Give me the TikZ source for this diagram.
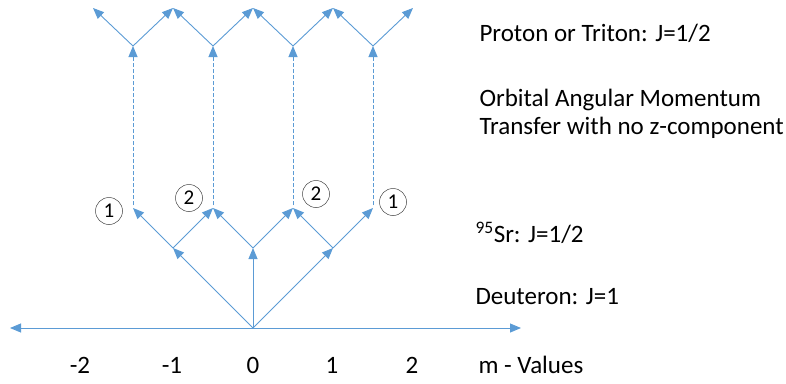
\documentclass[tikz,border=0pt]{standalone}
\usepackage{fontspec}
\setmainfont{Carlito}
\usepackage{xcolor}
\usepackage{tikz}
\usetikzlibrary{arrows.meta,positioning,calc}
\definecolor{spinblue}{HTML}{5B9BD5}

\begin{document}
\begin{tikzpicture}[x=1pt,y=-1pt,>={Triangle[length=11pt,width=9pt]},
  spin/.style={->,spinblue,line width=0.9pt},
  transfer/.style={->,spinblue,line width=1pt,dash pattern=on 4pt off 2pt},
  count/.style={circle,draw=black!75,line width=0.5pt,minimum size=27pt,inner sep=0pt,font=\fontsize{21}{24}\selectfont},
  lbl/.style={anchor=west,font=\fontsize{25}{30}\selectfont}]
\useasboundingbox (0,0) rectangle (786,383);
% m axis
\coordinate (o) at (253,328);
\coordinate (axl) at (10,328);
\coordinate (axr) at (521,328);
\draw[spin,<->] (axl) -- (axr);
\foreach \m/\x [count=\i] in {-2/80,-1/172,0/253,1/332,2/412}
  \node[font=\fontsize{25}{30}\selectfont] (mv\i) at (\x,365) {\m};
% deuteron: J=1
\coordinate (dm) at (173,248);
\coordinate (dz) at (253,248);
\coordinate (dp) at (333,248);
\foreach \d in {dm,dz,dp} \draw[spin] (o) -- (\d);
% 95Sr: J=1/2 coupled on each deuteron state
\foreach \x [count=\i] in {133,213,293,373} {
  \coordinate (s\i) at (\x,208);
  \coordinate (t\i) at (\x,46);
}
\foreach \d/\l/\r in {dm/1/2,dz/2/3,dp/3/4} {
  \draw[spin] (\d) -- (s\l);
  \draw[spin] (\d) -- (s\r);
}
% transfer without z-component
\foreach \i in {1,...,4} \draw[transfer,shorten <=3pt] (s\i) -- (t\i);
% proton or triton: J=1/2
\foreach \x [count=\i from 0] in {93,173,253,333,413} \coordinate (u\i) at (\x,8);
\foreach \i/\l/\r in {1/0/1,2/1/2,3/2/3,4/3/4} {
  \draw[spin] (t\i) -- (u\l);
  \draw[spin] (t\i) -- (u\r);
}
% multiplicities
\node[count] (c1) at (109,211) {1};
\node[count] (c2) at (189,198) {2};
\node[count] (c3) at (316,194) {2};
\node[count] (c4) at (393,202) {1};
% labels
\node[lbl] (proton) at (476,33) {Proton or Triton: J=1/2};
\node[lbl] (orbital) at (476,100) {Orbital Angular Momentum};
\node[lbl] (transfer) at (476,128) {Transfer with no z-component};
\node[lbl] (sr) at (472,233) {\textsuperscript{95}Sr: J=1/2};
\node[lbl] (deut) at (472,297) {Deuteron: J=1};
\node[lbl] (mval) at (475,365) {m - Values};
\end{tikzpicture}
\end{document}
